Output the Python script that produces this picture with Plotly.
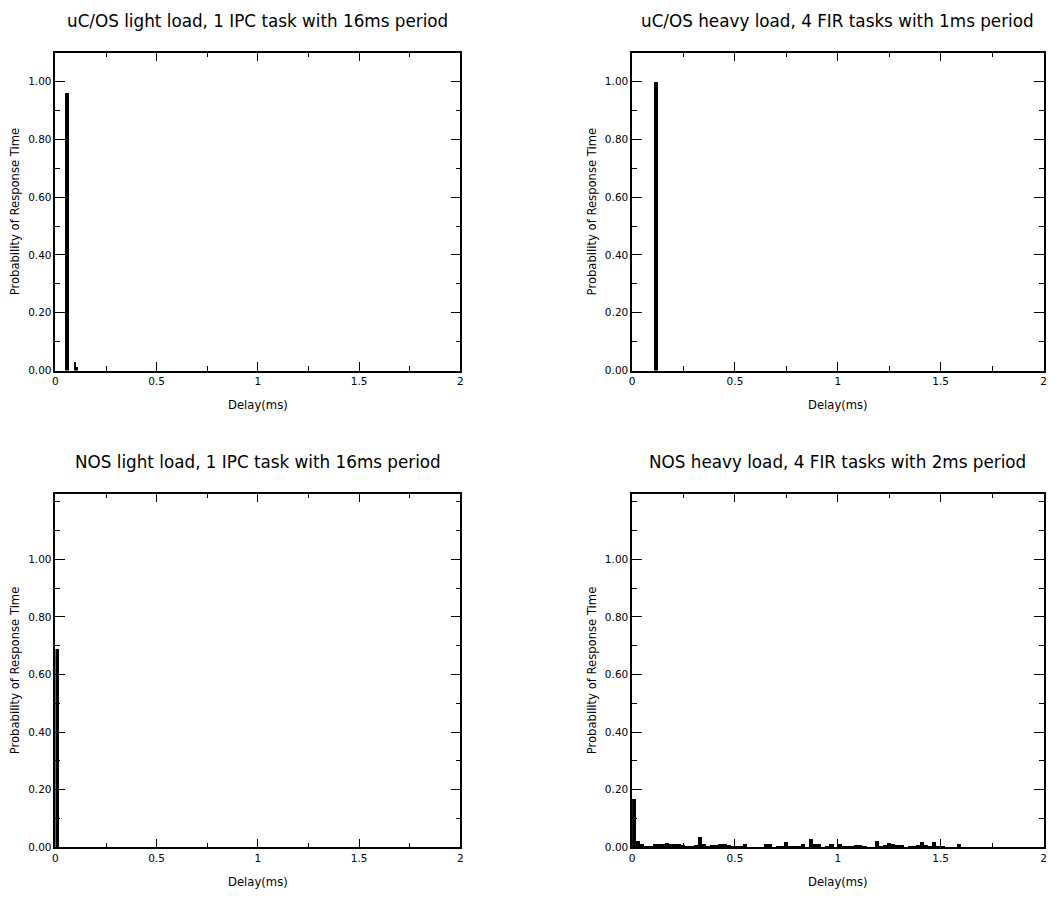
import plotly.graph_objects as go

# ---- data ----
titles = [
    "uC/OS light load, 1 IPC task with 16ms period",
    "uC/OS heavy load, 4 FIR tasks with 1ms period",
    "NOS light load, 1 IPC task with 16ms period",
    "NOS heavy load, 4 FIR tasks with 2ms period",
]

ucos_light_x = [0.059, 0.098, 0.107]
ucos_light_y = [0.96, 0.032, 0.012]
ucos_light_w = [0.02, 0.008, 0.01]

ucos_heavy_x = [0.116]
ucos_heavy_y = [1.00]
ucos_heavy_w = [0.02]

nos_light_x = [0.01]
nos_light_y = [0.69]
nos_light_w = [0.02]

nos_heavy_bin = 0.02
nos_heavy_y = [
    0.170, 0.022, 0.012, 0.006, 0.004, 0.012, 0.012, 0.012, 0.016, 0.012,
    0.012, 0.012, 0.008, 0.006, 0.006, 0.008, 0.036, 0.012, 0.003, 0.008,
    0.008, 0.012, 0.012, 0.008, 0.006, 0.006, 0.005, 0.011, 0.0, 0.0,
    0.0, 0.0, 0.011, 0.011, 0.0, 0.005, 0.005, 0.018, 0.005, 0.005,
    0.005, 0.011, 0.0, 0.030, 0.011, 0.011, 0.0, 0.003, 0.011, 0.0,
    0.011, 0.005, 0.004, 0.004, 0.008, 0.008, 0.005, 0.002, 0.0, 0.024,
    0.005, 0.008, 0.017, 0.014, 0.008, 0.008, 0.0, 0.005, 0.005, 0.008,
    0.018, 0.008, 0.005, 0.020, 0.006, 0.004, 0.0, 0.0, 0.0, 0.011,
]
nos_heavy_x = [i * nos_heavy_bin + nos_heavy_bin / 2 for i in range(len(nos_heavy_y))]

x_ticks = [0, 0.5, 1, 1.5, 2]
x_tick_text = ["0", "0.5", "1", "1.5", "2"]
y_ticks = [0, 0.2, 0.4, 0.6, 0.8, 1.0]
y_max_top = 1.1
y_max_bottom = 1.2276

# ---- layout geometry ----
W, H = 1055, 900
xdom = [[52.7 / W, 460 / W], [632.7 / W, 1046.5 / W]]
ydom = [[1 - 373 / H, 1 - 53 / H], [1 - 853 / H, 1 - 497 / H]]
yrange = [y_max_top, y_max_bottom]

fig = go.Figure()

panels = [
    (ucos_light_x, ucos_light_y, ucos_light_w, 0, 0),
    (ucos_heavy_x, ucos_heavy_y, ucos_heavy_w, 1, 0),
    (nos_light_x, nos_light_y, nos_light_w, 0, 1),
    (nos_heavy_x, nos_heavy_y, [nos_heavy_bin] * len(nos_heavy_y), 1, 1),
]

font = "DejaVu Sans, sans-serif"
layout = dict(
    width=W, height=H, margin=dict(l=0, r=0, t=0, b=0),
    paper_bgcolor="white", plot_bgcolor="white", showlegend=False,
    font=dict(family=font, color="black", size=11), bargap=0,
)
annotations = []
for i, (xs, ys, ws, col, row) in enumerate(panels):
    n = i + 1
    xa = "x" if n == 1 else f"x{n}"
    ya = "y" if n == 1 else f"y{n}"
    fig.add_trace(go.Bar(x=xs, y=ys, width=ws, marker=dict(color="black", line=dict(width=0)),
                         xaxis=xa, yaxis=ya))
    xkey = "xaxis" if n == 1 else f"xaxis{n}"
    ykey = "yaxis" if n == 1 else f"yaxis{n}"
    layout[xkey] = dict(
        domain=xdom[col], anchor=ya, range=[0, 2], tickvals=x_ticks, ticktext=x_tick_text,
        ticks="inside", ticklen=9, tickwidth=1, tickcolor="black",
        minor=dict(dtick=0.25, tick0=0, ticks="inside", ticklen=5, tickcolor="black", tickwidth=1),
        showline=True, linecolor="black", linewidth=1.5, mirror="ticks",
        showgrid=False, zeroline=False, tickfont=dict(size=10.5),
        title=dict(text="Delay(ms)", font=dict(size=11.6), standoff=15),
    )
    layout[ykey] = dict(
        domain=ydom[row], anchor=xa, range=[0, yrange[row]], tickvals=y_ticks, tickformat=".2f",
        ticks="inside", ticklen=10, tickwidth=1, tickcolor="black",
        minor=dict(dtick=0.1, tick0=0, ticks="inside", ticklen=5, tickcolor="black", tickwidth=1),
        showline=True, linecolor="black", linewidth=1.5, mirror="ticks",
        showgrid=False, zeroline=False, tickfont=dict(size=10.5),
        title=dict(text="Probability of Response Time", font=dict(size=11.6), standoff=6),
    )
    annotations.append(dict(
        text=titles[i], xref="paper", yref="paper",
        x=(xdom[col][0] + xdom[col][1]) / 2, y=ydom[row][1] + 32 / H,
        xanchor="center", yanchor="middle", showarrow=False,
        font=dict(size=16.8, family=font, color="black"),
    ))

layout["annotations"] = annotations
fig.update_layout(**layout)
fig.write_html("out.html")
